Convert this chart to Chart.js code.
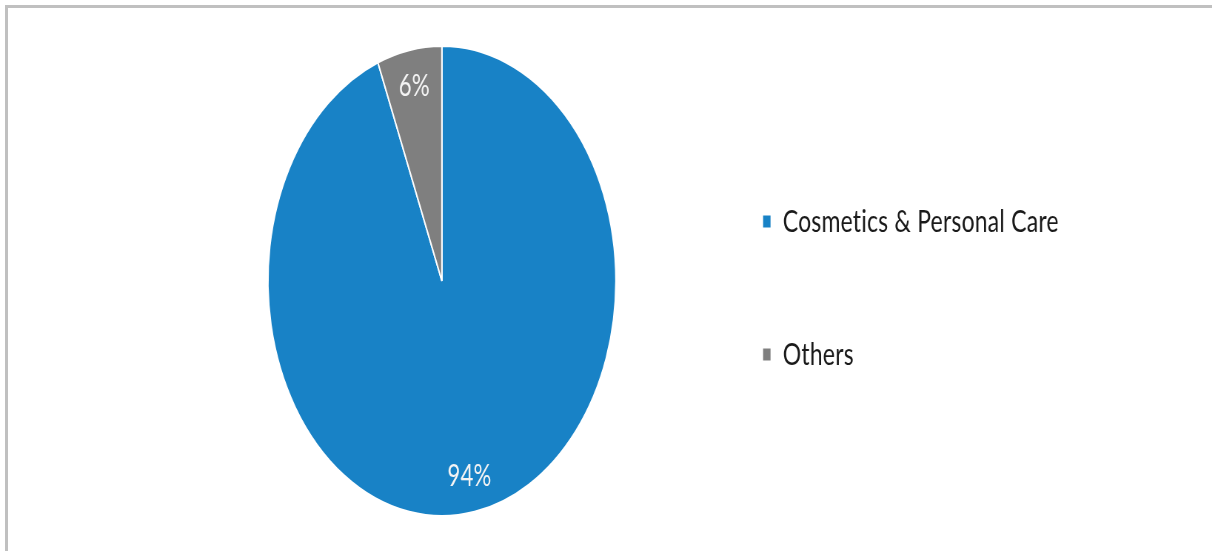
<!DOCTYPE html>
<html>
<head>
<meta charset="utf-8">
<script src="https://cdn.jsdelivr.net/npm/chart.js@4/dist/chart.umd.min.js"></script>
<style>
  html, body { margin: 0; padding: 0; background: #ffffff; overflow: hidden; }
  #frame { position: absolute; left: 5px; top: 5px; width: 1207px; height: 546px;
           border-top: 3px solid #c0c0c0; border-left: 3px solid #c0c0c0; box-sizing: border-box; }
  #wrap { position: absolute; left: 0; top: 0; width: 1637px; height: 551px;
          transform: scaleX(0.7404); transform-origin: 0 0; }
</style>
</head>
<body>
<div id="frame"></div>
<div id="wrap"><canvas id="c" width="1637" height="551"></canvas></div>
<script>
const categories = ["Cosmetics & Personal Care", "Others"];
const shares = [94, 6];
const sliceColors = ["#1882c6", "#7f7f7f"];
const labelTexts = ["94%", "6%"];

const spacing = {
  id: 'spacing',
  beforeLayout(chart) { chart.ctx.letterSpacing = '0.3px'; },
  beforeDraw(chart) { chart.ctx.letterSpacing = '0.3px'; }
};

const sliceLabels = {
  id: 'sliceLabels',
  afterDatasetsDraw(chart) {
    const ctx = chart.ctx;
    const meta = chart.getDatasetMeta(0);
    ctx.save();
    ctx.font = '30px Lato';
    ctx.fillStyle = '#f4f4f4';
    ctx.textAlign = 'center';
    ctx.textBaseline = 'middle';
    meta.data.forEach((arc, i) => {
      const p = arc.getProps(['x', 'y', 'startAngle', 'endAngle', 'outerRadius']);
      const mid = (p.startAngle + p.endAngle) / 2;
      const r = p.outerRadius * 0.845;
      ctx.fillText(labelTexts[i], p.x + Math.cos(mid) * r, p.y + Math.sin(mid) * r);
    });
    ctx.restore();
  }
};

new Chart(document.getElementById('c'), {
  type: 'pie',
  data: {
    labels: categories,
    datasets: [{
      data: shares,
      backgroundColor: sliceColors,
      borderColor: '#ffffff',
      borderWidth: 2
    }]
  },
  options: {
    responsive: false,
    animation: false,
    layout: { padding: { top: 45, bottom: 34, left: 266, right: 197 } },
    plugins: {
      tooltip: { enabled: false },
      legend: {
        position: 'right',
        title: { display: true, text: '', font: { size: 5 }, padding: 4 },
        labels: {
          font: { family: 'Lato', size: 31 },
          color: '#1a1a1a',
          boxWidth: 12,
          boxHeight: 14,
          padding: 102
        }
      }
    }
  },
  plugins: [spacing, sliceLabels]
});
</script>
</body>
</html>
